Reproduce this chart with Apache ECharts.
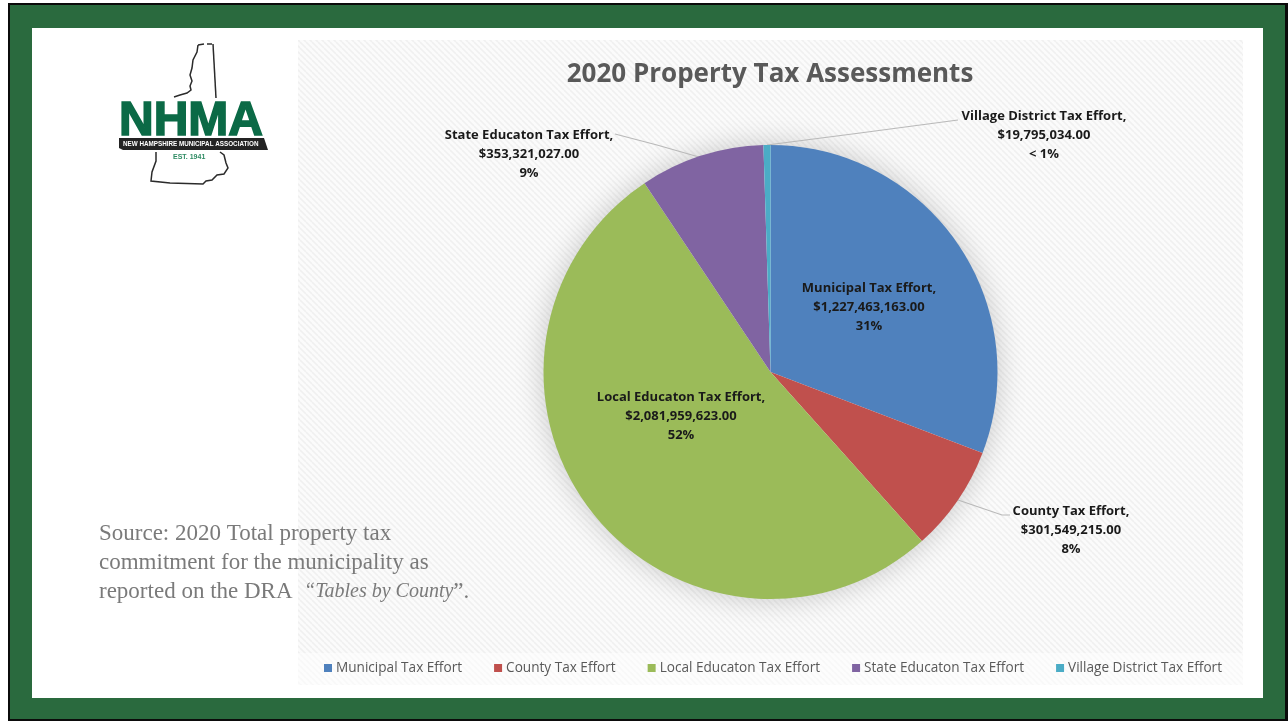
<!DOCTYPE html>
<html>
<head>
<meta charset="utf-8">
<title>2020 Property Tax Assessments</title>
<script src="https://cdn.jsdelivr.net/npm/echarts@6/dist/echarts.min.js"></script>
<style>
  html, body { margin: 0; padding: 0; background: #fff; }
  #chart { width: 1288px; height: 721px; }
</style>
</head>
<body>
<div id="chart"></div>
<script>
// Property tax commitment by category
const categories = [
  'Municipal Tax Effort',
  'County Tax Effort',
  'Local Educaton Tax Effort',
  'State Educaton Tax Effort',
  'Village District Tax Effort'
];
const amounts = [1227463163, 301549215, 2081959623, 353321027, 19795034];
const shareLabels = ['31%', '8%', '52%', '9%', '< 1%'];
const sliceColors = ['#4F81BD', '#C0504D', '#9BBB59', '#8064A2', '#4BACC6'];
const titleText = '2020 Property Tax Assessments';

// Label centres and leader lines, in the same order as the categories
const labelCentres = [[869, 307], [1071, 530], [681, 416], [529, 154], [1044, 135]];
const leaderLines = [
  null,
  [[958, 500], [1002, 515], [1010, 515]],
  null,
  [[699, 157], [657, 145], [615, 134]],
  [[767, 145], [860, 133], [958, 120]]
];
const pieCentre = [770.5, 372];
const pieRadius = 227;

const money = v => '$' + v.toLocaleString('en-US', { minimumFractionDigits: 2, maximumFractionDigits: 2 });

// Light diagonal hatching for the chart panel
function hatch(dark, light) {
  const size = 6;
  const c = document.createElement('canvas');
  c.width = c.height = size;
  const g = c.getContext('2d');
  g.fillStyle = light;
  g.fillRect(0, 0, size, size);
  g.strokeStyle = dark;
  g.lineWidth = 1.6;
  for (let i = -size; i <= size; i += size) {
    g.beginPath();
    g.moveTo(i, 0);
    g.lineTo(i + size, size);
    g.stroke();
  }
  return { image: c, repeat: 'repeat' };
}

const rect = (x, y, w, h, fill, z) => ({
  type: 'rect', z: z || 0, silent: true,
  shape: { x, y, width: w, height: h }, style: { fill }
});
const outline = points => ({
  type: 'polyline', z: 1, silent: true,
  shape: { points },
  style: { stroke: '#2b2b2b', fill: null, lineWidth: 1.5 }
});
const sourceFont = '23px "Liberation Serif", serif';

const frame = [
  rect(8, 3, 1280, 718, '#0b0b0b'),
  rect(10, 5, 1275, 714, '#2A6A3E'),
  rect(32, 28, 1231, 670, '#ffffff'),
  rect(298, 40, 945, 613, hatch('#f0f0f0', '#fbfbfb')),
  rect(298, 653, 945, 32, hatch('#f8f8f8', '#fdfdfd'))
];

const logo = [
  outline([[198, 45], [197, 52], [193, 60], [192, 68], [190, 75], [192, 81], [190, 86], [191, 90], [187, 93], [180, 95], [174, 97]]),
  outline([[198, 45], [204, 44]]),
  outline([[207, 44], [212, 44]]),
  outline([[213, 44], [216, 98]]),
  outline([[156, 152], [156, 161], [152, 172], [151, 181], [170, 183], [203, 184], [206, 181], [212, 180], [217, 175], [224, 174], [228, 168], [226, 163], [224, 155], [220, 152]]),
  {
    type: 'text', z: 2, silent: true, x: 119, y: 98,
    style: {
      text: 'NHMA', font: '900 48px "Liberation Sans", sans-serif', fill: '#0B6A46',
      stroke: '#0B6A46', lineWidth: 1.6, textVerticalAlign: 'top'
    }
  },
  {
    type: 'polygon', z: 2, silent: true,
    shape: { points: [[119, 138], [264, 138], [268, 150], [123, 150], [119, 148]] },
    style: { fill: '#232323' }
  },
  {
    type: 'text', z: 3, silent: true, x: 123, y: 144,
    style: { text: 'NEW HAMPSHIRE MUNICIPAL ASSOCIATION', font: 'bold 6.3px "Liberation Sans", sans-serif', fill: '#ffffff', textVerticalAlign: 'middle' }
  },
  {
    type: 'text', z: 3, silent: true, x: 173, y: 157,
    style: { text: 'EST. 1941', font: 'bold 7px "Liberation Sans", sans-serif', fill: '#2E8B63', textVerticalAlign: 'middle' }
  }
];

const source = [
  ['Source: 2020 Total property tax', 534],
  ['commitment for the municipality as', 563]
].map(([text, y]) => ({
  type: 'text', z: 5, silent: true, x: 99, y,
  style: { text, font: sourceFont, fill: '#7a7a7a', textVerticalAlign: 'middle' }
}));
source.push({
  type: 'text', z: 5, silent: true, x: 99, y: 592,
  style: {
    text: '{n|reported on the DRA  }{i|“Tables by County}{n|”.}',
    textVerticalAlign: 'middle',
    rich: {
      n: { font: sourceFont, fill: '#7a7a7a' },
      i: { font: 'italic 20px "Liberation Serif", serif', fill: '#7a7a7a' }
    }
  }
});

// Soft shadow that sits under the whole pie
const pieShadow = {
  type: 'circle', z: 1, silent: true,
  shape: { cx: pieCentre[0], cy: pieCentre[1], r: pieRadius - 1 },
  style: { fill: '#ffffff', shadowBlur: 30, shadowColor: 'rgba(0,0,0,0.22)' }
};

const chart = echarts.init(document.getElementById('chart'), null, { renderer: 'canvas' });
chart.setOption({
  animation: false,
  color: sliceColors,
  title: {
    text: titleText,
    left: 765, top: 57, textAlign: 'center',
    textStyle: { fontFamily: '"Open Sans", sans-serif', fontWeight: 'bold', fontSize: 26, color: '#595959' }
  },
  legend: {
    left: 319, top: 656,
    icon: 'rect',
    itemWidth: 8, itemHeight: 8, itemGap: 32,
    selectedMode: false,
    data: categories,
    textStyle: { fontFamily: '"Open Sans", sans-serif', fontSize: 13.6, color: '#595959', padding: [0, 0, 0, -1] }
  },
  graphic: { elements: [...frame, ...logo, pieShadow, ...source] },
  series: [{
    type: 'pie',
    center: pieCentre,
    radius: [0, pieRadius],
    startAngle: 90,
    clockwise: true,
    avoidLabelOverlap: false,
    silent: true,
    data: categories.map((name, i) => ({
      name,
      value: amounts[i],
      labelLine: { show: leaderLines[i] !== null }
    })),
    label: {
      show: true,
      position: 'outside',
      formatter: p => p.name + ',\n' + money(p.value) + '\n' + shareLabels[p.dataIndex],
      fontFamily: '"Open Sans", sans-serif',
      fontWeight: 700,
      fontSize: 13,
      lineHeight: 19,
      align: 'center',
      color: '#1a1a1a'
    },
    labelLine: { show: true, lineStyle: { color: '#b9b9b9', width: 1.2 } },
    labelLayout: p => {
      const layout = {
        x: labelCentres[p.dataIndex][0],
        y: labelCentres[p.dataIndex][1],
        align: 'center',
        verticalAlign: 'middle'
      };
      if (leaderLines[p.dataIndex]) layout.labelLinePoints = leaderLines[p.dataIndex];
      return layout;
    }
  }]
});
</script>
</body>
</html>
